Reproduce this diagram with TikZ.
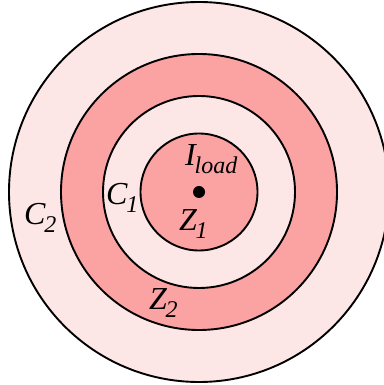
\documentclass[tikz,border=0pt]{standalone}
\usepackage{fontspec}
\setmainfont{Liberation Serif}
\definecolor{pinklight}{RGB}{253,230,230}
\definecolor{pinkdark}{RGB}{251,162,162}
\newcommand{\sublbl}[2]{#1\kern-0.04em\raisebox{-0.25em}{\fontsize{24}{24}\selectfont #2}}
\begin{document}
\begin{tikzpicture}[x=1pt, y=1pt,
  ring/.style={circle, draw, line width=1.9pt, inner sep=0pt},
  lbl/.style={anchor=base west, inner sep=0pt, font=\fontsize{32}{32}\selectfont\itshape}]
  \useasboundingbox (0,0) rectangle (383,385);

  \coordinate (ctr) at (199,193);
  \node[ring, fill=pinklight, minimum size=380pt] (c2) at (ctr) {};
  \node[ring, fill=pinkdark, minimum size=276pt] (z2) at (ctr) {};
  \node[ring, fill=pinklight, minimum size=192pt] (c1) at (ctr) {};
  \node[ring, fill=pinkdark, minimum size=117pt] (z1) at (ctr) {};
  \fill (ctr) circle (6pt);

  % labels
  \node[lbl] (iload) at (185,219) {\sublbl{I}{load}};
  \node[lbl] (zone) at (179,154) {\sublbl{Z}{1}};
  \node[lbl] (cone) at (106,180) {\sublbl{C}{1}};
  \node[lbl] (ctwo) at (24,160) {\sublbl{C}{2}};
  \node[lbl] (ztwo) at (149,75) {\sublbl{Z}{2}};
\end{tikzpicture}
\end{document}
